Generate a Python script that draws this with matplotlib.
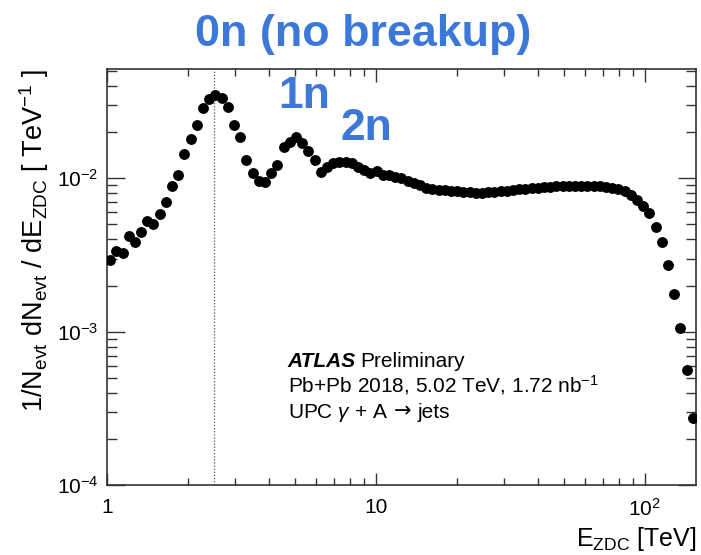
import numpy as np
import matplotlib
matplotlib.use("Agg")
import matplotlib.pyplot as plt
from matplotlib.ticker import LogLocator, FixedLocator, FixedFormatter, NullFormatter

plt.rcParams["font.family"] = ["Liberation Sans", "DejaVu Sans"]
plt.rcParams["mathtext.fontset"] = "custom"
plt.rcParams["mathtext.rm"] = "Liberation Sans"
plt.rcParams["mathtext.it"] = "Liberation Sans:italic"
plt.rcParams["mathtext.bf"] = "Liberation Sans:bold"

# ZDC energy bin centres [TeV]
e_zdc = [
    1.027, 1.083, 1.142, 1.204, 1.270, 1.339, 1.412, 1.489, 1.570, 1.655,
    1.746, 1.841, 1.941, 2.047, 2.159, 2.276, 2.400, 2.531, 2.669, 2.814,
    2.968, 3.129, 3.300, 3.480, 3.670, 3.870, 4.081, 4.303, 4.538, 4.786,
    5.047, 5.322, 5.612, 5.918, 6.241, 6.581, 6.940, 7.319, 7.718, 8.139,
    8.582, 9.050, 9.543, 10.06, 10.61, 11.19, 11.80, 12.44, 13.12, 13.84,
    14.59, 15.39, 16.23, 17.11, 18.04, 19.03, 20.07, 21.16, 22.31, 23.53,
    24.81, 26.17, 27.59, 29.10, 30.68, 32.36, 34.12, 35.98, 37.94, 40.01,
    42.19, 44.49, 46.92, 49.47, 52.17, 55.01, 58.01, 61.18, 64.51, 68.03,
    71.74, 75.65, 79.78, 84.13, 88.71, 93.55, 98.59, 103.96, 109.63, 115.6,
    121.9, 128.6, 135.6, 143.0, 150.8,
]

# normalised yield 1/N dN/dE [1/TeV]
dn_de = [
    2.94e-3, 3.37e-3, 3.24e-3, 4.21e-3, 3.86e-3, 4.49e-3, 5.25e-3, 5.01e-3, 5.85e-3, 6.98e-3,
    8.95e-3, 1.05e-2, 1.44e-2, 1.81e-2, 2.23e-2, 2.87e-2, 3.30e-2, 3.49e-2, 3.32e-2, 2.91e-2,
    2.23e-2, 1.85e-2, 1.31e-2, 1.08e-2, 9.56e-3, 9.42e-3, 1.09e-2, 1.22e-2, 1.61e-2, 1.72e-2,
    1.87e-2, 1.69e-2, 1.51e-2, 1.32e-2, 1.10e-2, 1.19e-2, 1.26e-2, 1.28e-2, 1.28e-2, 1.25e-2,
    1.18e-2, 1.13e-2, 1.08e-2, 1.12e-2, 1.05e-2, 1.05e-2, 1.02e-2, 1.00e-2, 9.67e-3, 9.32e-3,
    8.98e-3, 8.65e-3, 8.46e-3, 8.39e-3, 8.33e-3, 8.27e-3, 8.21e-3, 8.14e-3, 8.08e-3, 8.02e-3,
    8.02e-3, 8.08e-3, 8.14e-3, 8.21e-3, 8.27e-3, 8.39e-3, 8.46e-3, 8.52e-3, 8.58e-3, 8.65e-3,
    8.71e-3, 8.78e-3, 8.84e-3, 8.84e-3, 8.91e-3, 8.91e-3, 8.91e-3, 8.91e-3, 8.91e-3, 8.84e-3,
    8.78e-3, 8.65e-3, 8.48e-3, 8.21e-3, 7.79e-3, 7.17e-3, 6.55e-3, 5.91e-3, 4.84e-3, 3.83e-3,
    2.71e-3, 1.75e-3, 1.06e-3, 5.64e-4, 2.75e-4,
]

x_ticks = [1, 10, 100]
x_tick_labels = ["1", "10", "$10^{2}$"]
y_ticks = [1e-4, 1e-3, 1e-2]
y_tick_labels = ["$10^{-4}$", "$10^{-3}$", "$10^{-2}$"]
x_range = (1.0, 155.0)
y_range = (1e-4, 0.0515)
no_breakup_energy = 2.5

BLUE = "#3c78d8"
W, H = 701, 555
fig = plt.figure(figsize=(W / 100, H / 100), dpi=100)
ax = fig.add_axes([107 / W, 1 - 485.3 / H, 589 / W, 416.3 / H])

ax.set_xscale("log")
ax.set_yscale("log")
ax.set_xlim(*x_range)
ax.set_ylim(*y_range)

ax.axvline(no_breakup_energy, color="#555555", lw=0.9, ls=(0, (1, 1.5)), zorder=1)
ax.plot(e_zdc, dn_de, ls="none", marker="o", ms=6.8, color="black", zorder=3)

ax.xaxis.set_major_locator(FixedLocator(x_ticks))
ax.xaxis.set_major_formatter(FixedFormatter(x_tick_labels))
ax.yaxis.set_major_locator(FixedLocator(y_ticks))
ax.yaxis.set_major_formatter(FixedFormatter(y_tick_labels))
for axis in (ax.xaxis, ax.yaxis):
    axis.set_minor_locator(LogLocator(base=10, subs=np.arange(2, 10), numticks=20))
    axis.set_minor_formatter(NullFormatter())

ax.tick_params(which="both", direction="in", top=True, right=True,
               color="#333333", width=1.0, labelsize=15)
ax.tick_params(axis="x", which="major", length=9, pad=9)
ax.tick_params(axis="x", which="minor", length=5)
ax.tick_params(axis="y", which="major", length=13, pad=6)
ax.tick_params(axis="y", which="minor", length=7)
for s in ax.spines.values():
    s.set_color("#333333")
    s.set_linewidth(1.2)

ax.set_xlabel(r"E$_{\mathrm{ZDC}}$ [TeV]", fontsize=18, loc="right", labelpad=4)
ax.set_ylabel(r"1/N$_{\mathrm{evt}}$ dN$_{\mathrm{evt}}$ / dE$_{\mathrm{ZDC}}$ [ TeV$^{-1}$ ]",
              fontsize=19.5, loc="top", labelpad=4)

# experiment label block
tx, ty0, dy = 0.307, 0.284, 0.061
ax.text(tx, ty0, "ATLAS", transform=ax.transAxes, fontsize=15,
        fontweight="bold", fontstyle="italic", va="baseline")
ax.text(tx + 0.123, ty0, "Preliminary", transform=ax.transAxes, fontsize=15,
        va="baseline")
ax.text(tx, ty0 - dy, r"Pb+Pb 2018, 5.02 TeV, 1.72 nb$^{-1}$",
        transform=ax.transAxes, fontsize=15, va="baseline")

# process line: text, arrow, text placed one after another with small gaps
renderer = fig.canvas.get_renderer()
inv = ax.transAxes.inverted()
gap = 6 / 589
parts = [("UPC $\\it{\u03b3}$ + A", ["Liberation Sans"]),
         ("\u2192", ["DejaVu Sans"]),
         ("jets", ["Liberation Sans"])]
cx = tx
for s, fam in parts:
    t = ax.text(cx, ty0 - 2 * dy, s, transform=ax.transAxes, fontsize=15,
                va="baseline", family=fam)
    bb = t.get_window_extent(renderer)
    cx = inv.transform((bb.x1, bb.y0))[0] + gap

# neutron-multiplicity annotations
fig.text(363.5 / W, 1 - 46 / H, "0n (no breakup)", color=BLUE, fontsize=32.3,
         fontweight="bold", ha="center", va="baseline")
fig.text(278 / W, 1 - 108 / H, "1n", color=BLUE, fontsize=32,
         fontweight="bold", ha="left", va="baseline")
fig.text(340 / W, 1 - 140 / H, "2n", color=BLUE, fontsize=32,
         fontweight="bold", ha="left", va="baseline")

fig.savefig("out.png", dpi=100)
